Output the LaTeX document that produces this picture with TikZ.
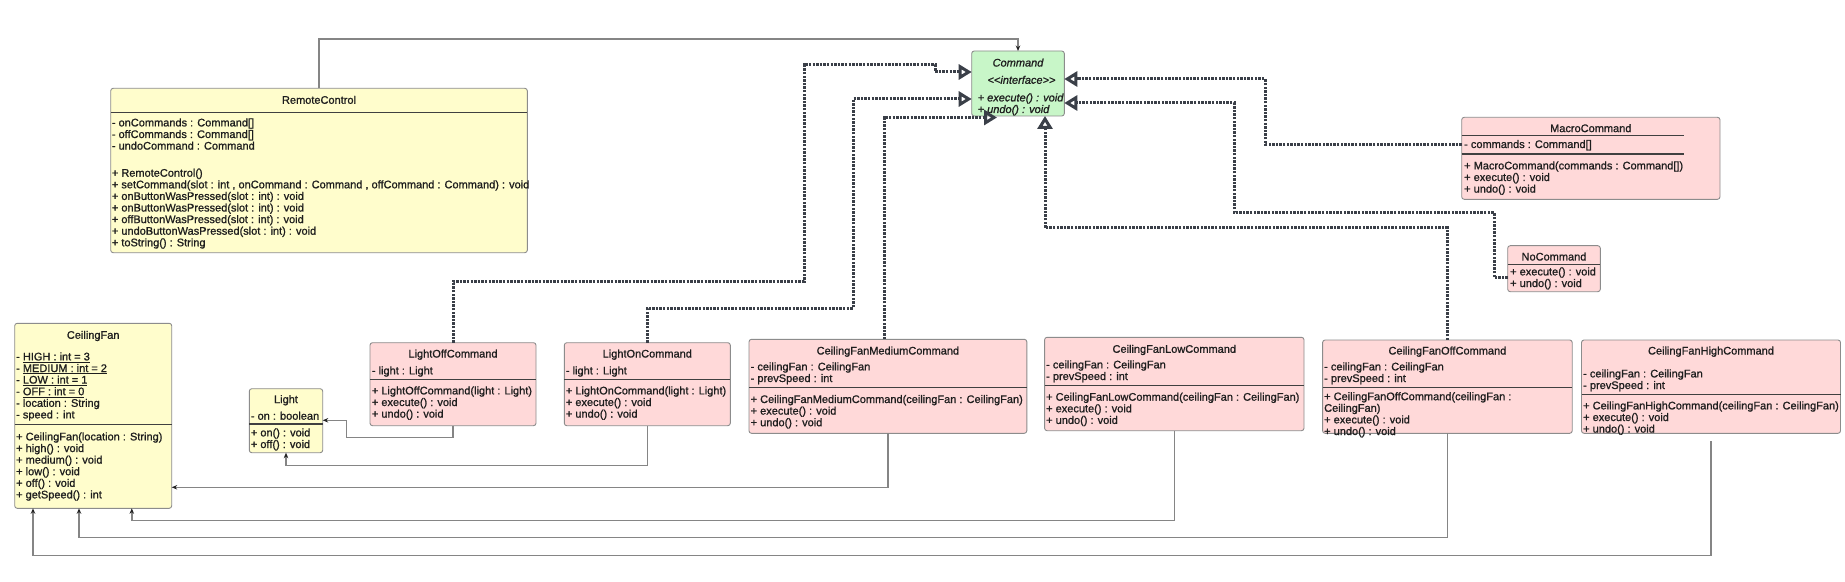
\documentclass[tikz,border=0pt]{standalone}
\usepackage{fontspec}
\setmainfont{Liberation Sans}
\usetikzlibrary{arrows.meta}
\definecolor{ybg}{HTML}{FFFDCC}
\definecolor{pbg}{HTML}{FFD9D9}
\definecolor{gbg}{HTML}{C8F6C8}
\definecolor{boxline}{HTML}{8C8C8C}
\definecolor{sepc}{HTML}{404040}
\definecolor{txtc}{HTML}{1E1E1E}
\definecolor{realc}{HTML}{3A3F48}
\definecolor{assocc}{HTML}{858585}
\definecolor{arrc}{HTML}{222222}
\newcommand\txtfont{\fontsize{11bp}{11.6bp}\selectfont\addfontfeature{FakeBold=1.0}}
\newcommand\umlbox[6]{\node[#1, minimum width={#5bp-#3bp}, minimum height={#6bp-#4bp}] (#2) at (#3,#4) {};}
\newcommand\lns[4]{\node[txtst] (#1) at (#2,{#3-5}) {\rule{0pt}{8.5bp}#4};}
\newcommand\ttl[4]{\node[ttlst] (#1) at (#2,{#3+3.8}) {#4};}
\newcommand\sepl[3]{\draw[sepline] (#1.west |- 0,#2) -- (#1.east |- 0,#2);}
\tikzset{
  umlbase/.style={draw=boxline, line width=0.9bp, rounded corners=2.5bp, inner sep=0pt, outer sep=0pt, anchor=north west},
  ybox/.style={umlbase, fill=ybg},
  pbox/.style={umlbase, fill=pbg},
  gbox/.style={umlbase, fill=gbg},
  sepline/.style={draw=sepc, line width=1.3bp},
  txtst/.style={inner sep=0pt, anchor=north west, align=left, font=\txtfont, text=txtc},
  ttlst/.style={inner sep=0pt, anchor=base, font=\txtfont, text=txtc},
  realiz/.style={draw=realc, line width=3bp, dash pattern=on 2.4bp off 1.2bp,
    -{Triangle[open, length=13bp, width=15bp, line width=3bp]}},
  assoc/.style={draw=assocc, line width=1.4bp, -{Stealth[length=5.5bp, width=4.5bp, color=arrc]}},
}
\begin{document}
\begin{tikzpicture}[x=1bp, y=-1bp]
\useasboundingbox[fill=white] (0,0) rectangle (1845,582);

% ---------- boxes ----------
\umlbox{ybox}{remote}{110.7}{88.3}{527.3}{252.7}
\umlbox{gbox}{command}{971.7}{51}{1064.3}{116}
\umlbox{pbox}{macro}{1461.7}{117.3}{1720}{199.3}
\umlbox{pbox}{nocmd}{1507.7}{245.7}{1600.3}{291.7}
\umlbox{ybox}{fan}{14.7}{323.3}{171.7}{508.3}
\umlbox{ybox}{light}{249.3}{388.7}{322.7}{452.7}
\umlbox{pbox}{lightoff}{370}{342.7}{536}{425.7}
\umlbox{pbox}{lighton}{564.3}{342.7}{730.3}{425.7}
\umlbox{pbox}{medium}{749}{339.3}{1026.8}{433.3}
\umlbox{pbox}{low}{1044.6}{337.3}{1304}{430.7}
\umlbox{pbox}{off}{1322.6}{340}{1572.2}{433.3}
\umlbox{pbox}{high}{1581.5}{340}{1840.5}{433.3}

% ---------- separators ----------
\sepl{remote}{112.3}\sepl{remote}{153.3}
\draw[sepline] (macro.west |- 0,135.3) -- (1684,135.3);
\draw[sepline] (macro.west |- 0,154) -- (1684,154);
\sepl{nocmd}{264.3}
\sepl{fan}{347.7}\sepl{fan}{424.3}
\sepl{light}{407.3}\sepl{light}{424}
\sepl{lightoff}{362.3}\sepl{lightoff}{379.3}
\sepl{lighton}{362.3}\sepl{lighton}{379.3}
\sepl{medium}{358.3}\sepl{medium}{387.3}
\sepl{low}{357.7}\sepl{low}{385.3}
\sepl{off}{358.3}\sepl{off}{387.7}
\sepl{high}{365.3}\sepl{high}{394.3}
\draw[draw=sepc, line width=1.2bp, -{Stealth[length=4.5bp, width=4bp]}] (command.east |- 0,88.3) ++(4,0) -- (975,88.3) -- (975,81);

% ---------- texts ----------
\ttl{remoteT}{319}{100}{RemoteControl}
\lns{remoteA}{111.7}{122.7}{- onCommands : Command[]\\- offCommands : Command[]\\- undoCommand : Command}
\lns{remoteM}{111.7}{173}{+ RemoteControl()\\+ setCommand(slot : int , onCommand : Command , offCommand : Command) : void\\+ onButtonWasPressed(slot : int) : void\\+ onButtonWasPressed(slot : int) : void\\+ offButtonWasPressed(slot : int) : void\\+ undoButtonWasPressed(slot : int) : void\\+ toString() : String}

\ttl{commandT}{1018}{62.7}{\itshape Command}
\ttl{commandS}{1021.5}{80}{\itshape <{}<interface>{}>}
\lns{commandM}{977.5}{97.7}{\itshape + execute() : void\\\itshape + undo() : void}

\ttl{macroT}{1590.8}{128.3}{MacroCommand}
\lns{macroA}{1464}{144.3}{- commands : Command[]}
\lns{macroM}{1464}{165.7}{+ MacroCommand(commands : Command[])\\+ execute() : void\\+ undo() : void}

\ttl{nocmdT}{1554}{256.7}{NoCommand}
\lns{nocmdM}{1510}{271.7}{+ execute() : void\\+ undo() : void}

\ttl{fanT}{93.2}{335}{CeilingFan}
\lns{fanA}{16}{356.7}{- \underline{HIGH : int = 3}\\- \underline{MEDIUM : int = 2}\\- \underline{LOW : int = 1}\\- \underline{OFF : int = 0}\\- location : String\\- speed : int}
\lns{fanM}{16}{436.7}{+ CeilingFan(location : String)\\+ high() : void\\+ medium() : void\\+ low() : void\\+ off() : void\\+ getSpeed() : int}

\ttl{lightT}{286}{399.3}{Light}
\lns{lightA}{250.7}{416}{- on : boolean}
\lns{lightM}{250.7}{432.7}{+ on() : void\\+ off() : void}

\ttl{lightoffT}{453}{353.7}{LightOffCommand}
\lns{lightoffA}{371.7}{370.7}{- light : Light}
\lns{lightoffM}{371.7}{390.7}{+ LightOffCommand(light : Light)\\+ execute() : void\\+ undo() : void}

\ttl{lightonT}{647.3}{353.7}{LightOnCommand}
\lns{lightonA}{565.7}{370.7}{- light : Light}
\lns{lightonM}{565.7}{390.7}{+ LightOnCommand(light : Light)\\+ execute() : void\\+ undo() : void}

\ttl{mediumT}{887.9}{350.7}{CeilingFanMediumCommand}
\lns{mediumA}{750.5}{366.7}{- ceilingFan : CeilingFan\\- prevSpeed : int}
\lns{mediumM}{750.5}{399.3}{+ CeilingFanMediumCommand(ceilingFan : CeilingFan)\\+ execute() : void\\+ undo() : void}

\ttl{lowT}{1174.3}{349}{CeilingFanLowCommand}
\lns{lowA}{1046}{364.7}{- ceilingFan : CeilingFan\\- prevSpeed : int}
\lns{lowM}{1046}{397}{+ CeilingFanLowCommand(ceilingFan : CeilingFan)\\+ execute() : void\\+ undo() : void}

\ttl{offT}{1447.4}{350.7}{CeilingFanOffCommand}
\lns{offA}{1324}{366.7}{- ceilingFan : CeilingFan\\- prevSpeed : int}
\lns{offM}{1324}{396.5}{+ CeilingFanOffCommand(ceilingFan :\\CeilingFan)\\+ execute() : void\\+ undo() : void}

\ttl{highT}{1711}{350.7}{CeilingFanHighCommand}
\lns{highA}{1583}{373.7}{- ceilingFan : CeilingFan\\- prevSpeed : int}
\lns{highM}{1583}{405.7}{+ CeilingFanHighCommand(ceilingFan : CeilingFan)\\+ execute() : void\\+ undo() : void}

% ---------- realizations (dotted) ----------
\coordinate (medtip) at (997,117.5);
\draw[realiz] (lightoff.north) |- (804,281) |- (935,65) |- (command.west |- 0,72);
\draw[realiz] (lighton.north) |- (853,308) |- (command.west |- 0,99);
\draw[realiz] (884,0 |- medium.north) |- (medtip);
\draw[realiz] (macro.west |- 0,144.3) -| (1265,79) -- (command.east |- 0,79);
\draw[realiz] (nocmd.west |- 0,277.7) -| (1494,212.7) -| (1234,103) -- (command.east |- 0,103);
\draw[realiz] (off.north) |- (1045,228) -- (1045,0 |- command.south);

% ---------- associations (solid) ----------
\draw[assoc] (remote.north) -- (remote.north |- 0,39) -| (command.north);
\draw[assoc] (lightoff.south) |- (346.7,437.7) |- (light.east |- 0,420.3);
\draw[assoc] (lighton.south) |- (light.south |- 0,465.3) -- (light.south);
\draw[assoc] (medium.south) |- (fan.east |- 0,487.3);
\draw[assoc] (low.south) |- (131.8,520.7) -- (131.8,0 |- fan.south);
\draw[assoc] (off.south) |- (79,537.3) -- (79,0 |- fan.south);
\draw[assoc] (high.south |- 0,441) |- (33,555.7) -- (33,0 |- fan.south);
\end{tikzpicture}
\end{document}
